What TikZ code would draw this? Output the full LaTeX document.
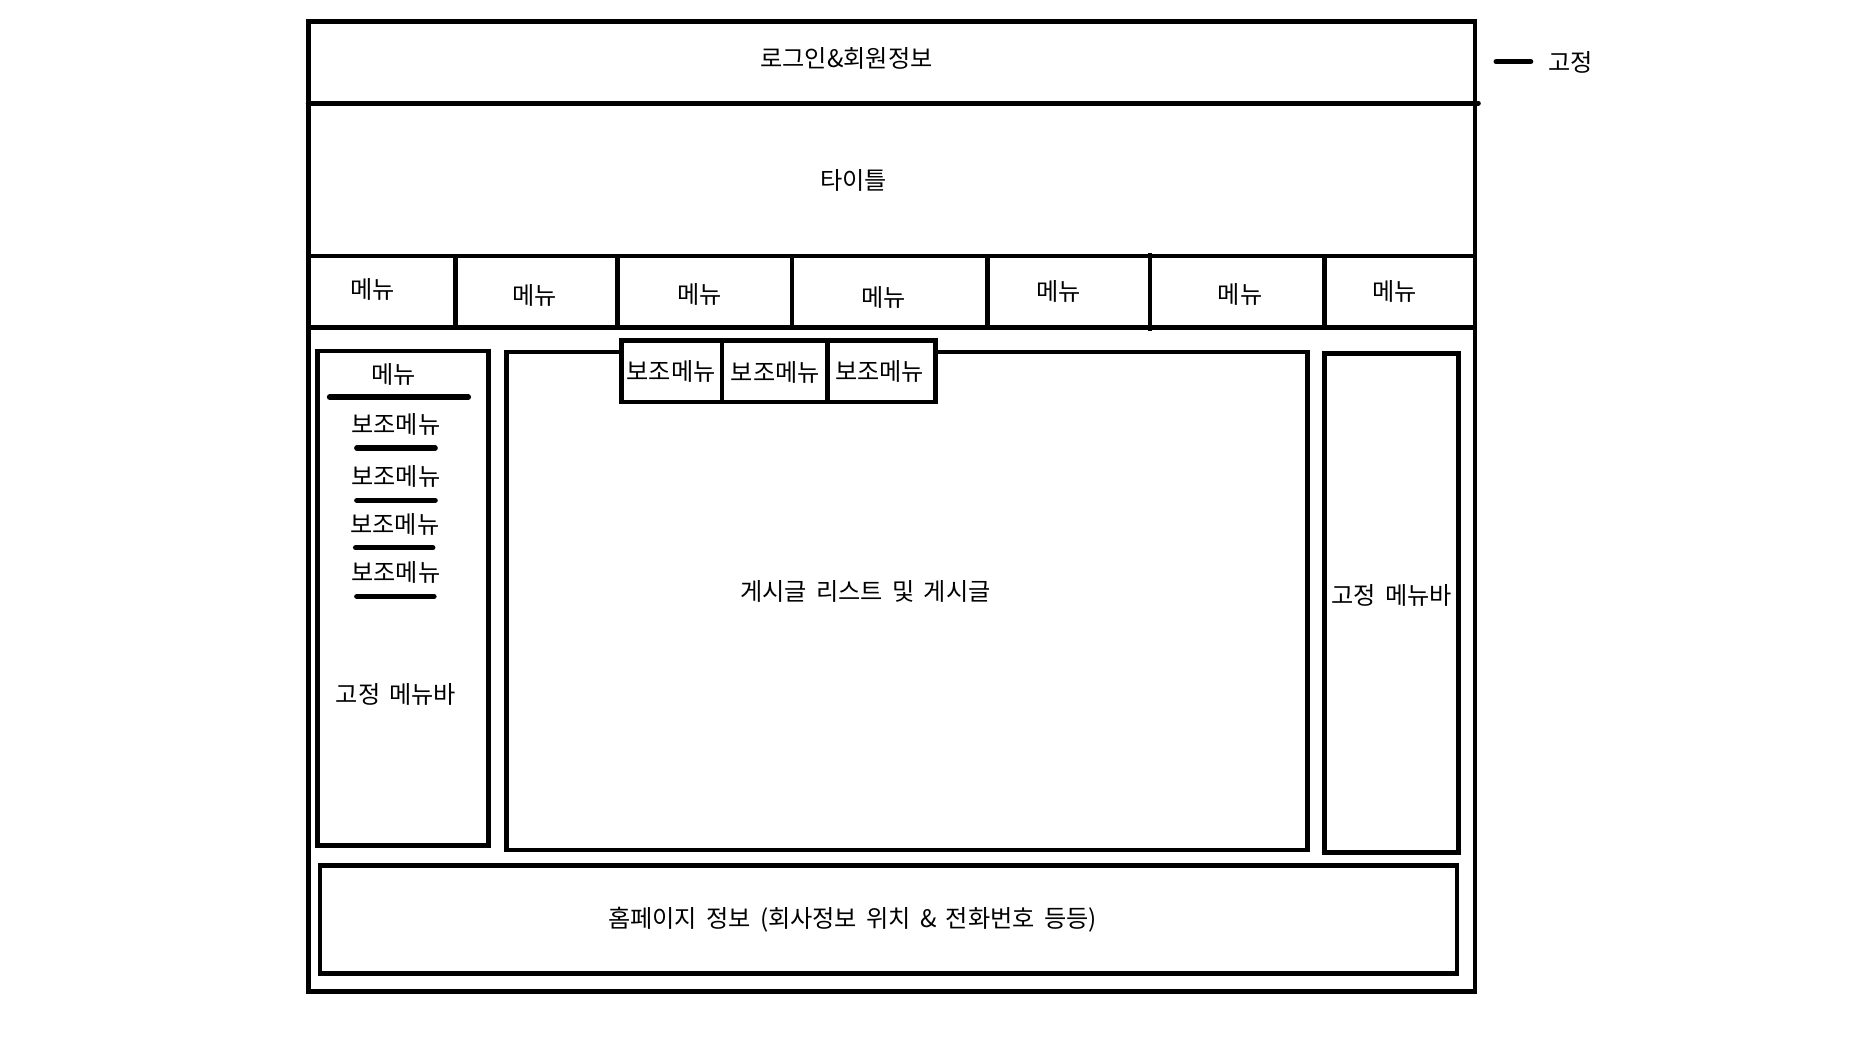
\documentclass[tikz,border=0pt]{standalone}
\usepackage{fontspec}
\setmainfont[WordSpace=1.7]{Noto Sans CJK KR}
\begin{document}
\begin{tikzpicture}[x=0.5pt,y=-0.5pt,
  lbl/.style={font=\fontsize{10.2pt}{12pt}\selectfont, inner sep=0pt, anchor=center},
  box/.style={draw=black, line width=2pt},
  sepline/.style={draw=black, line width=2pt},
  bar/.style={draw=black, line width=2.3pt, line cap=round}]
\useasboundingbox (0,0) rectangle (1568,892);
\fill[white] (0,0) rectangle (1568,892);

% outer frame and horizontal separators
\draw[box] (260,18) rectangle (1244,836);
\draw[sepline, line cap=round] (260,87) -- (1247,87);
\draw[sepline] (260,216) -- (1244,216);
\draw[sepline] (260,276) -- (1244,276);

% menu dividers
\draw[sepline] (384,216) -- (384,276);
\draw[sepline] (521,216) -- (521,276);
\draw[sepline] (668,216) -- (668,278);
\draw[sepline] (833,216) -- (833,276);
\draw[sepline] (970,213) -- (970,279);
\draw[sepline] (1117,216) -- (1117,276);

\node[lbl] (login) at (714,49) {로그인\&회원정보};
\node[lbl] (title) at (720,152) {타이틀};
\node[lbl] (m1) at (314,244) {메뉴};
\node[lbl] (m2) at (451,249) {메뉴};
\node[lbl] (m3) at (590,248) {메뉴};
\node[lbl] (m4) at (745,251) {메뉴};
\node[lbl] (m5) at (893,246) {메뉴};
\node[lbl] (m6) at (1046,248) {메뉴};
\node[lbl] (m7) at (1176,246) {메뉴};

% legend
\coordinate (lgA) at (1262,52);
\coordinate (lgB) at (1291,52);
\draw[bar] (lgA) -- (lgB);
\node[lbl] (legend) at (1325,53) {고정};

% left sidebar
\draw[box] (268,296) rectangle (412,713);
\node[lbl] (lm) at (332,316) {메뉴};
\coordinate (l0a) at (278,335); \coordinate (l0b) at (395,335);
\draw[bar] (l0a) -- (l0b);
\node[lbl] (ls1) at (334,358) {보조메뉴};
\coordinate (l1a) at (301,378); \coordinate (l1b) at (367,378);
\draw[bar] (l1a) -- (l1b);
\node[lbl] (ls2) at (334,402) {보조메뉴};
\coordinate (l2a) at (301,422); \coordinate (l2b) at (367,422);
\draw[bar] (l2a) -- (l2b);
\node[lbl] (ls3) at (333,442) {보조메뉴};
\coordinate (l3a) at (300,462); \coordinate (l3b) at (365,462);
\draw[bar] (l3a) -- (l3b);
\node[lbl] (ls4) at (334,483) {보조메뉴};
\coordinate (l4a) at (301,503); \coordinate (l4b) at (366,503);
\draw[bar] (l4a) -- (l4b);
\node[lbl] (lfix) at (334,586) {고정 메뉴바};

% centre content box
\draw[box] (427,297) rectangle (1103,717);
\fill[white] (524,287) rectangle (789,339);
\draw[box] (524,287) rectangle (789,339);
\draw[sepline] (609,287) -- (609,339);
\draw[sepline] (698,287) -- (698,339);
\node[lbl] (s1) at (566,313) {보조메뉴};
\node[lbl] (s2) at (654,314) {보조메뉴};
\node[lbl] (s3) at (742,313) {보조메뉴};
\node[lbl] (posts) at (730,499) {게시글 리스트 및 게시글};

% right sidebar
\draw[box] (1117,298) rectangle (1230,719);
\node[lbl] (rfix) at (1174,502) {고정 메뉴바};

% footer
\draw[box] (270,730) rectangle (1229,821);
\node[lbl] (footer) at (719,776) {홈페이지 정보 (회사정보 위치 \& 전화번호 등등)};
\end{tikzpicture}
\end{document}
